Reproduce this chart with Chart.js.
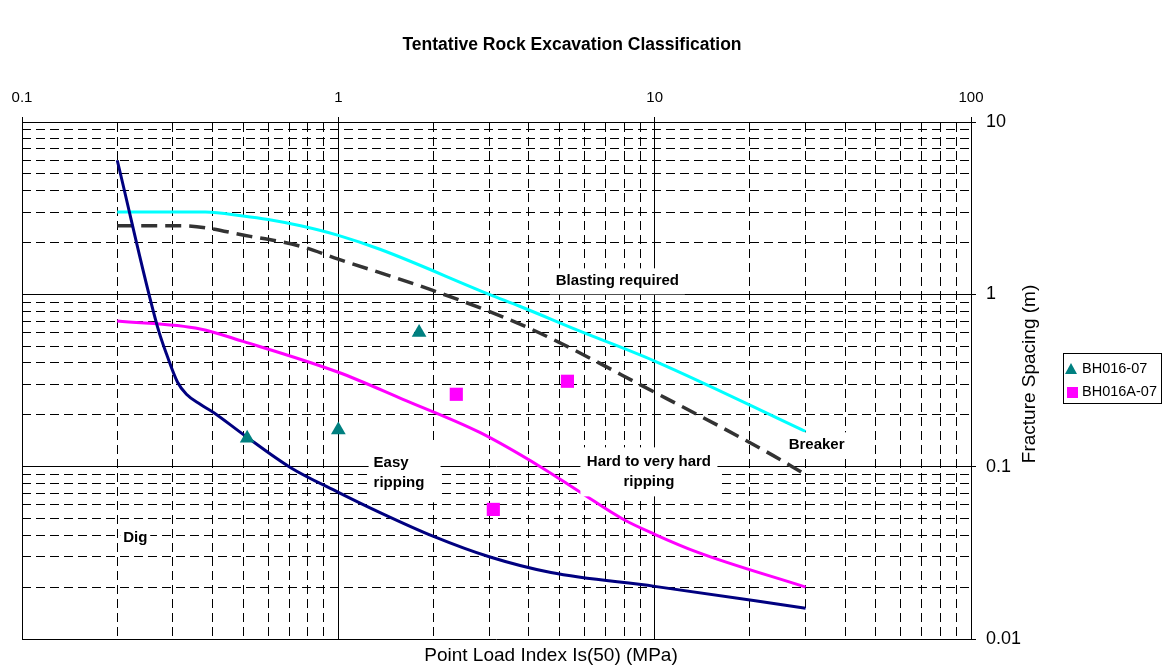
<!DOCTYPE html>
<html>
<head>
<meta charset="utf-8">
<title>Tentative Rock Excavation Classification</title>
<script src="https://cdn.jsdelivr.net/npm/chart.js@4.4.1/dist/chart.umd.min.js"></script>
<style>
  html, body { margin: 0; padding: 0; background: #fff; }
  #wrap { position: relative; width: 1168px; height: 668px; }
</style>
</head>
<body>
<div id="wrap"><canvas id="chart" width="1168" height="668"></canvas></div>
<script>
const FONT = "'Liberation Sans', Arial, Helvetica, sans-serif";

// Labelled (decade) ticks
const xTickLabels = [0.1, 1, 10, 100];
const yTickLabels = [0.01, 0.1, 1, 10];

// Boundary curves: Is(50) in MPa -> fracture spacing in m
const digX = [0.2, 0.268, 0.288, 0.31, 0.331, 0.366, 0.402, 0.5, 0.705, 1, 1.36, 2, 3, 4.7, 10, 30];
const digY = [6, 0.65, 0.437, 0.31, 0.263, 0.23, 0.207, 0.154, 0.099, 0.071, 0.054, 0.0394, 0.030, 0.0243, 0.0202, 0.0151];

const rippingX = [0.2, 0.366, 0.5, 1, 1.6, 2.8, 4.35, 5.82, 7.95, 10, 13.7, 30];
const rippingY = [0.7, 0.63, 0.533, 0.353, 0.246, 0.158, 0.1, 0.071, 0.0495, 0.0405, 0.0318, 0.02];

const breakerX = [0.2, 0.32, 0.527, 0.76, 1, 2, 3.96, 10, 22.4, 30];
const breakerY = [2.5, 2.5, 2.17, 1.9, 1.6, 1.05, 0.643, 0.27, 0.123, 0.09];

const blastX = [0.2, 0.38, 0.5, 0.6, 0.76, 1, 1.36, 3, 3.76, 5.7, 10, 30];
const blastY = [3, 3, 2.85, 2.72, 2.5, 2.2, 1.82, 1, 0.85, 0.62, 0.41, 0.16];

// Borehole test results
const bh016X = [0.515, 1.0, 1.8];
const bh016Y = [0.146, 0.163, 0.60];
const bh016aX = [2.36, 5.3, 3.09];
const bh016aY = [0.263, 0.313, 0.0565];

// Zone names (placed in data units)
const zoneLabels = [
    { lines: ['Blasting required'], x: 7.62, y: 1.19, w: 135, h: 26, align: 'center' },
    { lines: ['Breaker'], x: 32.5, y: 0.133, w: 66, h: 26, align: 'center' },
    { lines: ['Easy', 'ripping'], x: 1.62, y: 0.0915, w: 72, h: 58, align: 'left' },
    { lines: ['Hard to very hard', 'ripping'], x: 9.59, y: 0.0933, w: 137, h: 49, align: 'center' },
    { lines: ['Dig'], x: 0.228, y: 0.0384, w: 30, h: 18, align: 'center' }
];

const toPoints = (xs, ys) => xs.map((v, i) => ({ x: v, y: ys[i] }));

// every 1..9 multiple of each decade, for the grid
function logGrid(min, max) {
    const out = [];
    for (let d = Math.log10(min); d < Math.log10(max); d++) {
        for (let m = 1; m < 10; m++) out.push(m * Math.pow(10, d));
    }
    out.push(max);
    return out;
}

const isDecade = v => Math.abs(Math.log10(v) - Math.round(Math.log10(v))) < 1e-6;
const labelFor = (list, v) => {
    const hit = list.find(t => Math.abs(t - v) / t < 1e-6);
    return hit === undefined ? '' : String(hit);
};

const gridDash = ctx => (ctx.tick && !isDecade(ctx.tick.value)) ? [9, 5] : [];
const tickCol = ctx => (ctx.tick && isDecade(ctx.tick.value)) ? '#000' : 'rgba(0,0,0,0)';

const overlay = {
    id: 'overlay',
    afterDatasetsDraw(chart) {
        const { ctx, scales: { x, y } } = chart;
        ctx.save();
        zoneLabels.forEach(z => {
            const cx = x.getPixelForValue(z.x);
            const cy = y.getPixelForValue(z.y);
            ctx.fillStyle = '#fff';
            ctx.fillRect(cx - z.w / 2, cy - z.h / 2, z.w, z.h);
            ctx.fillStyle = '#000';
            ctx.font = `bold 15px ${FONT}`;
            ctx.textBaseline = 'middle';
            ctx.textAlign = z.align;
            const tx = z.align === 'left' ? cx - z.w / 2 + 5 : cx;
            z.lines.forEach((t, i) => {
                ctx.fillText(t, tx, cy + (i - (z.lines.length - 1) / 2) * 20);
            });
        });
        ctx.restore();
    },
    afterDraw(chart) {
        const { ctx } = chart;
        ctx.save();
        ctx.fillStyle = '#000';
        ctx.textBaseline = 'middle';
        ctx.textAlign = 'center';

        ctx.font = `bold 17.5px ${FONT}`;
        ctx.fillText('Tentative Rock Excavation Classification', 572, 45);

        ctx.font = `19px ${FONT}`;
        ctx.fillText('Point Load Index Is(50) (MPa)', 551, 656);

        ctx.save();
        ctx.translate(1030, 374);
        ctx.rotate(-Math.PI / 2);
        ctx.fillText('Fracture Spacing (m)', 0, 0);
        ctx.restore();

        // legend
        const lx = 1063, ly = 353, lw = 98, lh = 50;
        ctx.strokeStyle = '#000';
        ctx.lineWidth = 1;
        ctx.strokeRect(lx + 0.5, ly + 0.5, lw, lh);

        ctx.fillStyle = '#008080';
        ctx.beginPath();
        ctx.moveTo(1071, 363);
        ctx.lineTo(1077, 374);
        ctx.lineTo(1065, 374);
        ctx.closePath();
        ctx.fill();

        ctx.fillStyle = '#ff00ff';
        ctx.fillRect(1067, 387, 11, 11);

        ctx.fillStyle = '#000';
        ctx.textAlign = 'left';
        ctx.font = `14.5px ${FONT}`;
        ctx.fillText('BH016-07', 1082, 369);
        ctx.fillText('BH016A-07', 1082, 392);
        ctx.restore();
    }
};

const chart = new Chart(document.getElementById('chart'), {
    type: 'scatter',
    data: {
        datasets: [
            {
                label: 'BH016-07',
                data: toPoints(bh016X, bh016Y),
                pointStyle: 'triangle',
                pointRadius: 8.5,
                backgroundColor: '#008080',
                borderColor: '#008080',
                borderWidth: 0,
                order: 0
            },
            {
                label: 'BH016A-07',
                data: toPoints(bh016aX, bh016aY),
                pointStyle: 'rect',
                pointRadius: 9.3,
                backgroundColor: '#ff00ff',
                borderColor: '#ff00ff',
                borderWidth: 0,
                order: 1
            },
            {
                label: 'Dig limit',
                data: toPoints(digX, digY),
                showLine: true,
                borderColor: '#000080',
                borderWidth: 3,
                pointRadius: 0,
                cubicInterpolationMode: 'monotone',
                order: 2
            },
            {
                label: 'Easy ripping limit',
                data: toPoints(rippingX, rippingY),
                showLine: true,
                borderColor: '#ff00ff',
                borderWidth: 3,
                pointRadius: 0,
                cubicInterpolationMode: 'monotone',
                order: 3
            },
            {
                label: 'Breaker limit',
                data: toPoints(breakerX, breakerY),
                showLine: true,
                borderColor: '#333333',
                borderWidth: 3.5,
                borderDash: [16, 8],
                pointRadius: 0,
                cubicInterpolationMode: 'monotone',
                order: 4
            },
            {
                label: 'Blasting limit',
                data: toPoints(blastX, blastY),
                showLine: true,
                borderColor: '#00ffff',
                borderWidth: 3,
                pointRadius: 0,
                cubicInterpolationMode: 'monotone',
                order: 5
            }
        ]
    },
    options: {
        responsive: false,
        animation: false,
        layout: { padding: { left: 22, top: 82, right: 0, bottom: 29 } },
        scales: {
            x: {
                type: 'logarithmic',
                position: 'top',
                min: 0.1,
                max: 100,
                afterBuildTicks: s => { s.ticks = logGrid(0.1, 100).map(v => ({ value: v })); },
                afterFit: s => { s.height = 40; },
                ticks: {
                    autoSkip: false,
                    maxRotation: 0,
                    padding: 10,
                    color: '#000',
                    font: { family: FONT, size: 15 },
                    callback: v => labelFor(xTickLabels, v)
                },
                grid: { color: '#000', lineWidth: 1, tickLength: 5, tickColor: tickCol },
                border: { display: true, color: '#000', width: 1, dash: gridDash }
            },
            y: {
                type: 'logarithmic',
                position: 'right',
                min: 0.01,
                max: 10,
                afterBuildTicks: s => { s.ticks = logGrid(0.01, 10).map(v => ({ value: v })); },
                afterFit: s => { s.width = 197; },
                ticks: {
                    autoSkip: false,
                    padding: 10,
                    color: '#000',
                    font: { family: FONT, size: 18 },
                    callback: v => labelFor(yTickLabels, v)
                },
                grid: { color: '#000', lineWidth: 1, tickLength: 5, tickColor: tickCol },
                border: { display: true, color: '#000', width: 1, dash: gridDash }
            }
        },
        plugins: {
            legend: { display: false },
            title: { display: false },
            tooltip: { enabled: false }
        }
    },
    plugins: [overlay]
});
</script>
</body>
</html>
